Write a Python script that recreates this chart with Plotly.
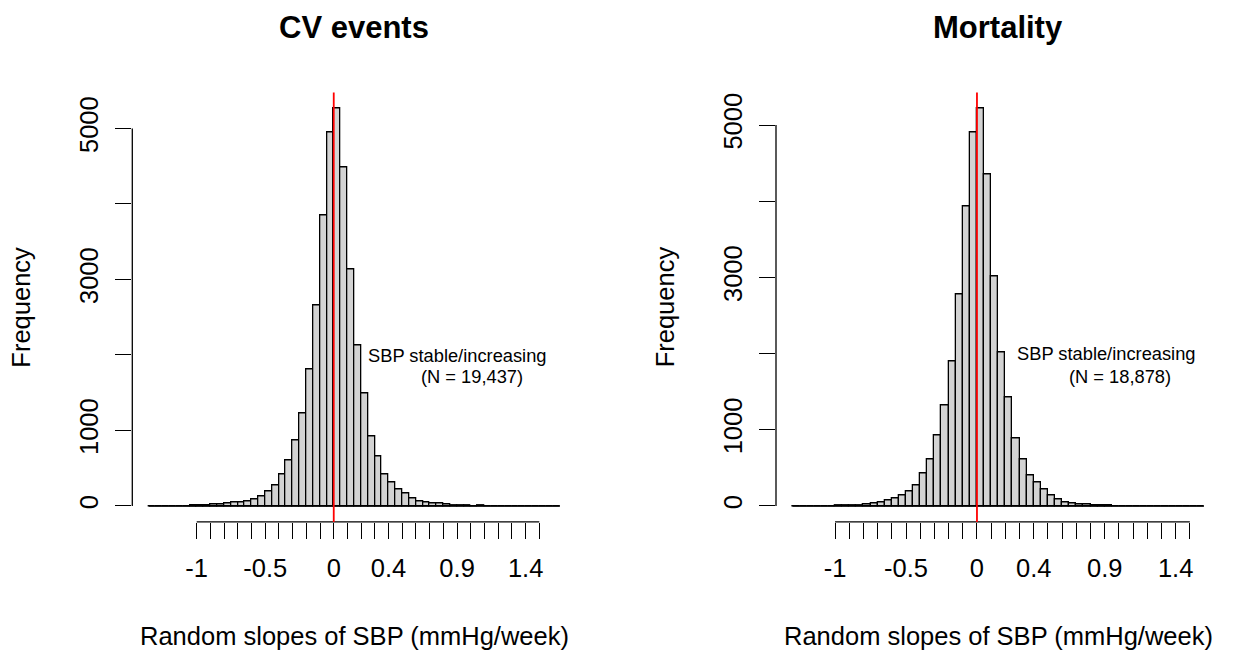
import plotly.graph_objects as go

# ---------------- data ----------------
bin_width = 0.05

cv_first_edge = -1.35
cv_counts = [0, 0, 0, 0, 0, 1, 3, 8, 10, 16,
             24, 33, 42, 50, 64, 88, 131, 197, 275, 425,
             609, 865, 1228, 1810, 2662, 3845, 4944, 5267, 4481, 3139,
             2132, 1488, 927, 653, 418, 318, 217, 165, 105, 62,
             42, 33, 30, 15, 12, 3, 2, 1, 12, 1,
             0, 0, 0, 0, 0, 0, 0, 0, 0, 0]

mort_first_edge = -1.30
mort_counts = [0, 0, 0, 0, 0, 0, 4, 6, 10, 13,
               20, 28, 50, 68, 95, 133, 192, 272, 430, 614,
               930, 1316, 1899, 2776, 3934, 4904, 5220, 4355, 3013, 2017,
               1425, 890, 614, 400, 305, 215, 135, 85, 50, 40,
               22, 18, 10, 8, 2, 1, 0, 0, 0, 0,
               0, 0, 0, 0, 0, 0, 0, 0]

panel_titles = ["CV events", "Mortality"]
annot_line1 = "SBP stable/increasing"
annot_line2 = ["(N = 19,437)", "(N = 18,878)"]
x_label = "Random slopes of SBP (mmHg/week)"
y_label = "Frequency"

x_tick_vals = [round(-1 + 0.1 * i, 1) for i in range(26)]
x_tick_labels = {-1.0: "-1", -0.5: "-0.5", 0.0: "0", 0.4: "0.4", 0.9: "0.9", 1.4: "1.4"}
y_tick_vals = [0, 1000, 2000, 3000, 4000, 5000]
y_tick_labels = {0: "0", 1000: "1000", 3000: "3000", 5000: "5000"}

# ---------------- layout geometry (pixels) ----------------
W, H = 1235, 652
panels_px = [(132.3, 576.3), (776.0, 1220.5)]
plot_top, plot_bottom = 92.4, 521.9
FONT = "Liberation Sans, Arial, sans-serif"
BASE = 25.5

def px_x(p):
    return p / W

def px_y(p):
    return 1 - p / H

fig = go.Figure()

datasets = [(cv_first_edge, cv_counts), (mort_first_edge, mort_counts)]
annot_pos = [((457, 355), (471.7, 376.7)), ((1106, 353.3), (1120, 376))]

for i, (first_edge, counts) in enumerate(datasets):
    n = len(counts)
    edges = [first_edge + bin_width * k for k in range(n + 1)]
    centers = [(edges[k] + edges[k + 1]) / 2 for k in range(n)]
    xa = "x" if i == 0 else "x2"
    ya = "y" if i == 0 else "y2"
    axname = "" if i == 0 else "2"

    fig.add_trace(go.Bar(
        x=centers, y=counts, width=bin_width,
        marker=dict(color="#D3D3D3", line=dict(color="black", width=1.3)),
        xaxis=xa, yaxis=ya, showlegend=False, hoverinfo="x+y"))
    # baseline of empty bins (as R's hist draws zero-height rectangles)
    fig.add_trace(go.Scatter(
        x=[edges[0], edges[-1]], y=[0, 0], mode="lines",
        line=dict(color="black", width=1.3),
        xaxis=xa, yaxis=ya, showlegend=False, hoverinfo="skip"))

    # R-style ranges: 4% extension
    xr = edges[-1] - edges[0]
    x_range = [edges[0] - 0.04 * xr, edges[-1] + 0.04 * xr]
    ymax = max(counts)
    y_range = [-0.04 * ymax, ymax * 1.04]

    x0p, x1p = panels_px[i]
    fig.layout["xaxis" + axname] = dict(
        domain=[px_x(x0p), px_x(x1p)], range=x_range, anchor=ya,
        showgrid=False, zeroline=False, showline=False,
        tickmode="array", tickvals=x_tick_vals,
        ticktext=[x_tick_labels.get(v, "") for v in x_tick_vals],
        ticks="outside", ticklen=16, tickwidth=1.3, tickcolor="black",
        tickfont=dict(family=FONT, size=BASE, color="black"),
        ticklabelstandoff=7, fixedrange=True)
    fig.layout["yaxis" + axname] = dict(
        domain=[px_y(plot_bottom), px_y(plot_top)], range=y_range, anchor=xa,
        showgrid=False, zeroline=False, showline=False,
        tickmode="array", tickvals=y_tick_vals,
        ticktext=[y_tick_labels.get(v, "") for v in y_tick_vals],
        ticks="outside", ticklen=16, tickwidth=1.3, tickcolor="black",
        tickangle=-90,
        tickfont=dict(family=FONT, size=BASE, color="black"),
        ticklabelstandoff=7, fixedrange=True)

    # axis lines limited to tick span (as R's axis())
    fig.add_shape(type="line", xref=xa + " domain", yref=ya,
                  x0=0, x1=0, y0=y_tick_vals[0], y1=y_tick_vals[-1],
                  line=dict(color="black", width=1.3))
    fig.add_shape(type="line", xref=xa, yref=ya + " domain",
                  x0=x_tick_vals[0], x1=x_tick_vals[-1], y0=0, y1=0,
                  line=dict(color="black", width=1.3))
    # red reference line at 0
    fig.add_shape(type="line", xref=xa, yref=ya + " domain",
                  x0=0, x1=0, y0=0, y1=1,
                  line=dict(color="#FF0000", width=1.8))

    cx = (x0p + x1p) / 2
    fig.add_annotation(text="<b>" + panel_titles[i] + "</b>", x=px_x(cx), y=px_y(28),
                       xref="paper", yref="paper", showarrow=False,
                       xanchor="center", yanchor="middle",
                       font=dict(family=FONT, size=31, color="black"))
    fig.add_annotation(text=x_label, x=px_x(cx), y=px_y(636),
                       xref="paper", yref="paper", showarrow=False,
                       xanchor="center", yanchor="middle",
                       font=dict(family=FONT, size=BASE, color="black"))
    fig.add_annotation(text=y_label, x=px_x(x0p - 110.8), y=px_y((plot_top + plot_bottom) / 2),
                       xref="paper", yref="paper", showarrow=False, textangle=-90,
                       xanchor="center", yanchor="middle",
                       font=dict(family=FONT, size=BASE, color="black"))
    (l1x, l1y), (l2x, l2y) = annot_pos[i]
    fig.add_annotation(text=annot_line1, x=px_x(l1x), y=px_y(l1y),
                       xref="paper", yref="paper", showarrow=False,
                       xanchor="center", yanchor="middle",
                       font=dict(family=FONT, size=18.3, color="black"))
    fig.add_annotation(text=annot_line2[i], x=px_x(l2x), y=px_y(l2y),
                       xref="paper", yref="paper", showarrow=False,
                       xanchor="center", yanchor="middle",
                       font=dict(family=FONT, size=18.3, color="black"))

fig.update_layout(
    width=W, height=H, autosize=False,
    margin=dict(l=0, r=0, t=0, b=0),
    paper_bgcolor="white", plot_bgcolor="white",
    bargap=0, barmode="overlay",
    font=dict(family=FONT, color="black"),
)

fig.write_html("out.html",
               config={"displayModeBar": False, "staticPlot": False},
               post_script="document.body.style.margin='0px';document.body.style.overflow='hidden';")
